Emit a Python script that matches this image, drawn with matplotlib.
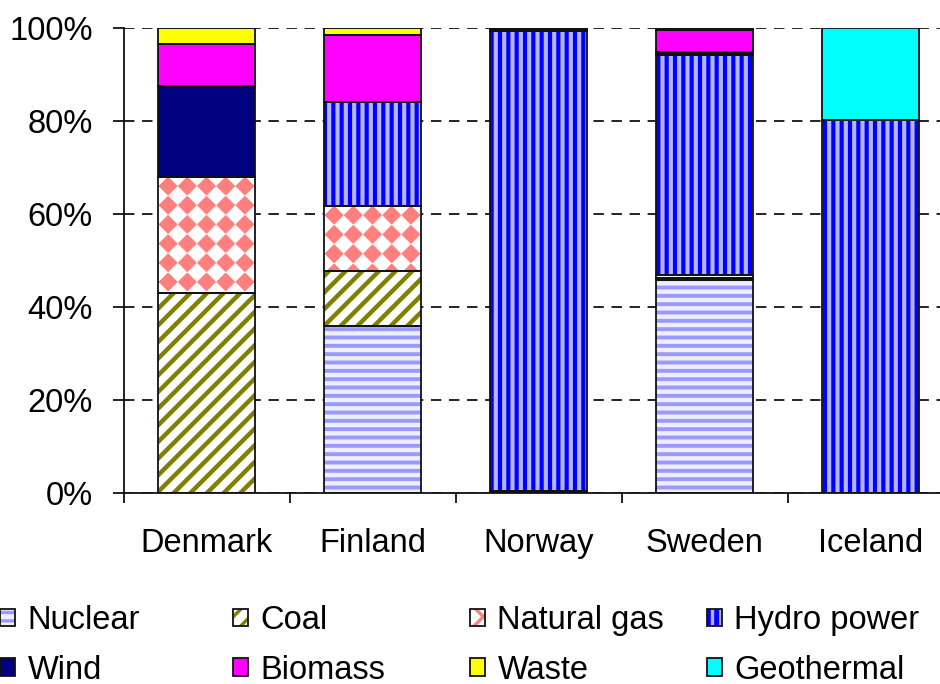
import numpy as np
import matplotlib
matplotlib.use('Agg')
import matplotlib.pyplot as plt
from matplotlib.patches import Patch
from matplotlib.ticker import PercentFormatter

countries = ['Denmark', 'Finland', 'Norway', 'Sweden', 'Iceland']

# share of electricity production by source, %
nuclear = [0.0, 36.0, 0.0, 45.8, 0.0]
coal = [43.0, 11.7, 0.2, 0.5, 0.0]
natural_gas = [25.0, 14.0, 0.3, 0.5, 0.0]
hydro = [0.0, 22.3, 98.8, 47.5, 80.3]
wind = [19.5, 0.0, 0.4, 0.5, 0.0]
biomass = [9.0, 14.5, 0.2, 4.7, 0.0]
waste = [3.5, 1.5, 0.1, 0.5, 0.0]
geothermal = [0.0, 0.0, 0.0, 0.0, 19.7]

# name, values, facecolor, hatch, hatch colour, hatch width
sources = [
    ('Nuclear', nuclear, '#EEEEFF', '--', '#9999FF', 2.8),
    ('Coal', coal, 'white', '//', '#808000', 3.2),
    ('Natural gas', natural_gas, 'white', None, '#FF8080', 2.0),
    ('Hydro power', hydro, '#0000FF', '||', '#B4B4FF', 3.0),
    ('Wind', wind, '#000080', None, None, 0),
    ('Biomass', biomass, '#FF00FF', None, None, 0),
    ('Waste', waste, '#FFFF00', None, None, 0),
    ('Geothermal', geothermal, '#00FFFF', None, None, 0),
]

FONT = 23.5
BAR_W = 0.59
EDGE = '#111111'
EDGE_W = 1.3

plt.rcParams['font.family'] = ['Liberation Sans', 'DejaVu Sans']
plt.rcParams['font.size'] = FONT
plt.rcParams['hatch.linewidth'] = 2.4
plt.rcParams['lines.scale_dashes'] = False


def set_hatch_width(patches, lw):
    # per-patch hatch width where the matplotlib version supports it
    for p in patches:
        if hasattr(p, 'set_hatch_linewidth'):
            p.set_hatch_linewidth(lw)


def diamond_texture(width_px, height_px, period=19.0, ox=10.0, oy=10.0,
                    pink=(1.0, 0.5, 0.5), back=(1.0, 1.0, 1.0)):
    # rotated checkerboard: pink diamonds on a square grid
    u = np.arange(int(width_px)) + 0.5 - ox
    v = np.arange(int(height_px)) + 0.5 - oy
    uu, vv = np.meshgrid(u, v)
    s = np.round((uu + vv) / period)
    t = np.round((uu - vv) / period)
    mask = ((s + t) % 2) == 0
    img = np.empty(mask.shape + (3,))
    img[mask] = pink
    img[~mask] = back
    return img


def draw_energy_mix():
    fig = plt.figure(figsize=(9.4, 6.84), dpi=100)
    fig_w, fig_h = 940, 684
    left, bottom, width, height = 123.5, 493, 830, 465
    ax = fig.add_axes([left / fig_w, 1 - bottom / fig_h, width / fig_w, height / fig_h])
    ax.set_xlim(-0.5, 4.5)
    ax.set_ylim(0, 100)
    px_x = width / 5.0
    px_y = height / 100.0

    x = np.arange(len(countries))
    base = np.zeros(len(countries))
    handles = []
    for name, vals, face, hatch, hcolor, hlw in sources:
        vals = np.array(vals)
        fill = ax.bar(x, vals, BAR_W, bottom=base, color=face, hatch=hatch,
                      edgecolor=hcolor if hatch else face, linewidth=0, zorder=2)
        if hatch:
            set_hatch_width(fill.patches, hlw)
        outline = ax.bar(x, vals, BAR_W, bottom=base, facecolor='none',
                         edgecolor=EDGE, linewidth=EDGE_W, zorder=4)
        if name == 'Natural gas':
            for i, rect in enumerate(outline.patches):
                if vals[i] < 1:
                    continue
                x0, x1 = x[i] - BAR_W / 2, x[i] + BAR_W / 2
                y0, y1 = base[i], base[i] + vals[i]
                tex = diamond_texture((x1 - x0) * px_x, (y1 - y0) * px_y)
                im = ax.imshow(tex, extent=(x0, x1, y0, y1), origin='upper',
                               aspect='auto', interpolation='bilinear', zorder=3)
                im.set_clip_path(rect)
            h_fill = Patch(facecolor='white', hatch='x', edgecolor=hcolor, linewidth=0)
            set_hatch_width([h_fill], hlw)
        elif hatch:
            h_fill = Patch(facecolor=face, hatch=hatch, edgecolor=hcolor, linewidth=0)
            set_hatch_width([h_fill], hlw)
        else:
            h_fill = Patch(facecolor=face, edgecolor=face, linewidth=0)
        h_line = Patch(facecolor='none', edgecolor=EDGE, linewidth=EDGE_W)
        handles.append(((h_fill, h_line), name))
        base = base + vals

    ax.set_xlim(-0.5, 4.5)
    ax.set_ylim(0, 100)

    # axes styling
    for side in ['top', 'right']:
        ax.spines[side].set_visible(False)
    for side in ['left', 'bottom']:
        ax.spines[side].set_linewidth(EDGE_W)
        ax.spines[side].set_color(EDGE)
    ax.set_yticks([0, 20, 40, 60, 80, 100])
    ax.yaxis.set_major_formatter(PercentFormatter(decimals=0))
    ax.tick_params(axis='y', direction='out', length=8, width=EDGE_W, pad=14,
                   labelsize=FONT, color=EDGE)
    ax.set_xticks(x)
    ax.set_xticklabels(countries)
    ax.set_xticks(np.arange(-0.5, 5.0, 1.0), minor=True)
    ax.tick_params(axis='x', which='major', length=0, pad=25, labelsize=FONT)
    ax.tick_params(axis='x', which='minor', direction='out', length=7, width=EDGE_W, color=EDGE)
    ax.yaxis.grid(True, color='#111111', linewidth=1.3, linestyle=(0, (7.5, 5.5)))
    ax.set_axisbelow(True)

    # legend, four columns of two entries
    col_x = [0, 233, 470, 707]
    for c in range(4):
        col = [handles[c], handles[c + 4]]
        fig.legend([h for h, _ in col], [n for _, n in col],
                   loc='upper left', bbox_to_anchor=(col_x[c] / fig_w, 1 - 605 / fig_h),
                   frameon=False, fontsize=FONT, handlelength=0.46, handleheight=0.46,
                   handletextpad=0.38, borderpad=0, borderaxespad=0, labelspacing=0.57)

    fig.savefig('out.png', dpi=100)


if __name__ == '__main__':
    draw_energy_mix()
